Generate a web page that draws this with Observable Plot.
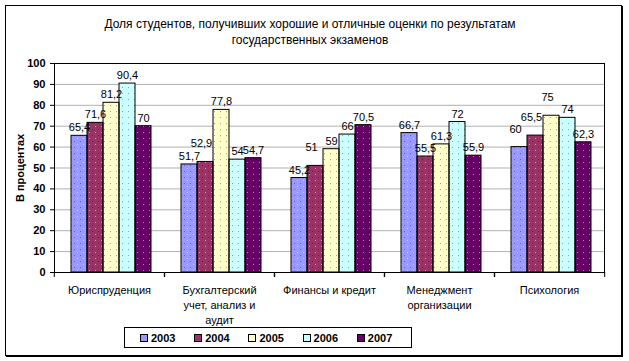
<!DOCTYPE html>
<html>
<head>
<meta charset="utf-8">
<script src="https://cdn.jsdelivr.net/npm/d3@7"></script>
<script src="https://cdn.jsdelivr.net/npm/@observablehq/plot@0.6"></script>
<style>
  html, body { margin: 0; padding: 0; background: #fff; }
  #wrap { position: relative; width: 629px; height: 361px; font-family: Arial, "Liberation Sans", sans-serif; }
  #border { position: absolute; left: 5px; top: 5px; width: 615px; height: 349px; border: 1px solid #000; box-shadow: 1px 1px 0 #000; }
  #title { position: absolute; left: 5px; width: 610px; top: 16px; text-align: center; font-size: 12px; line-height: 16px; color: #000; }
  #chart { position: absolute; left: 0; top: 50px; }
  #legend { position: absolute; left: 124px; top: 327px; width: 288px; height: 21px; border: 1px solid #000; display: flex; align-items: center; padding-left: 15px; box-sizing: border-box; font-size: 11px; font-weight: bold; }
  .item { display: flex; align-items: center; width: 58px; }
  .sw { width: 6px; height: 6px; border: 1px solid #000; margin-right: 3px; }
</style>
</head>
<body>
<div id="wrap">
  <div id="border"></div>
  <div id="title">Доля студентов, получивших хорошие и отличные оценки по результатам<br>государственных экзаменов</div>
  <div id="chart"></div>
  <div id="legend"></div>
</div>
<script>
const categories = ["Юриспруденция", "Бухгалтерский учет, анализ и аудит", "Финансы и кредит", "Менеджмент организации", "Психология"];
const categoryLabels = ["Юриспруденция", "Бухгалтерский\nучет, анализ и\nаудит", "Финансы и кредит", "Менеджмент\nорганизации", "Психология"];
const years = ["2003", "2004", "2005", "2006", "2007"];
const v2003 = [65.4, 51.7, 45.2, 66.7, 60];
const v2004 = [71.6, 52.9, 51, 55.5, 65.5];
const v2005 = [81.2, 77.8, 59, 61.3, 75];
const v2006 = [90.4, 54, 66, 72, 74];
const v2007 = [70, 54.7, 70.5, 55.9, 62.3];
const yTicks = [0, 10, 20, 30, 40, 50, 60, 70, 80, 90, 100];
const gridTicks = [10, 20, 30, 40, 50, 60, 70, 80, 90, 100];
const colors = ["#9999ff", "#993366", "#ffffcc", "#ccffff", "#660066"];
// data labels that the reference lifts higher above their bars
const raisedLabels = ["Бухгалтерский учет, анализ и аудит|2004", "Финансы и кредит|2004", "Психология|2004", "Психология|2005", "Психология|2003"];

const series = [v2003, v2004, v2005, v2006, v2007];
const data = categories.flatMap((c, ci) => years.map((y, yi) => ({cat: c, year: y, value: series[yi][ci]})));
const isRaised = d => raisedLabels.includes(d.cat + "|" + d.year);

const W = 629, H = 277, mL = 53, mR = 24, mT = 13, mB = 55;
const fxStep = (W - mL - mR) / categories.length;
const fmt = v => String(v).replace(".", ",");

const chart = Plot.plot({
  width: W, height: H,
  marginLeft: mL, marginRight: mR, marginTop: mT, marginBottom: mB,
  style: {fontFamily: "Arial, 'Liberation Sans', sans-serif", fontSize: "11px", color: "#000", background: "transparent"},
  fx: {domain: categories, padding: 0, label: null, axis: null},
  x: {domain: years, paddingInner: 0, paddingOuter: 0.75, align: 0.57, axis: null},
  y: {domain: [0, 100], axis: null},
  color: {domain: years, range: colors},
  marks: [
    Plot.ruleY(gridTicks, {stroke: "#b0b0b0", strokeWidth: 1}),
    Plot.barY(data, {fx: "cat", x: "year", y: "value", fill: "year"}),
    Plot.barY(data, {fx: "cat", x: "year", y: "value", fill: "url(#dots)", stroke: "#000", strokeWidth: 1}),
    Plot.text(data, {filter: d => !isRaised(d), fx: "cat", x: "year", y: "value", text: d => fmt(d.value), dy: -8, fontSize: 11, fill: "#000"}),
    Plot.text(data, {filter: isRaised, fx: "cat", x: "year", y: "value", text: d => fmt(d.value), dy: -18, dx: -4, fontSize: 11, fill: "#000"}),
    Plot.frame({facet: "super", stroke: "#000"}),
    Plot.axisY({ticks: yTicks, tickSize: 4, tickPadding: 5, fontWeight: "bold", fontSize: 11, label: "В процентах", labelAnchor: "center", labelArrow: "none", labelOffset: 38}),
    Plot.axisFx({anchor: "bottom", tickSize: 0, tickPadding: 11, tickFormat: d => categoryLabels[categories.indexOf(d)], lineHeight: 1.36, fontSize: 11, label: null}),
    Plot.axisFx({anchor: "bottom", tickSize: 5, tickFormat: () => "", dx: fxStep / 2, label: null}),
    Plot.axisFx({anchor: "bottom", tickSize: 5, tickFormat: () => "", dx: -fxStep / 2, label: null})
  ]
});

const svg = d3.select(chart);
const defs = svg.insert("defs", ":first-child");
const pat = defs.append("pattern").attr("id", "dots").attr("patternUnits", "userSpaceOnUse").attr("width", 6).attr("height", 6);
pat.append("rect").attr("x", 1).attr("y", 1).attr("width", 1).attr("height", 1).attr("fill", "rgba(0,0,0,0.35)");
pat.append("rect").attr("x", 4).attr("y", 4).attr("width", 1).attr("height", 1).attr("fill", "rgba(255,255,255,0.5)");
svg.selectAll("[aria-label='y-axis label'] text, [aria-label='y-axis label']").attr("font-weight", "bold");

document.getElementById("chart").appendChild(chart);

const legend = d3.select("#legend");
years.forEach((y, i) => {
  const it = legend.append("div").attr("class", "item");
  it.append("div").attr("class", "sw").style("background", colors[i]);
  it.append("span").text(y);
});
</script>
</body>
</html>
